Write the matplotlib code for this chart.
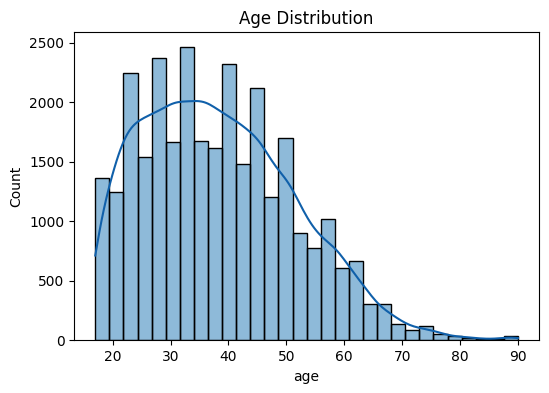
import numpy as np
import matplotlib.pyplot as plt

# histogram of age, 30 bins between 17 and 90 (counts)
age_min = 17
age_max = 90
counts = [1365, 1247, 2246, 1541, 2372, 1667, 2467, 1675, 1617, 2321,
          1482, 2120, 1205, 1701, 906, 778, 1021, 610, 663, 308,
          308, 140, 90, 123, 50, 40, 22, 15, 8, 40]

edges = np.linspace(age_min, age_max, len(counts) + 1)
width = edges[1] - edges[0]
counts = np.array(counts, dtype=float)

# kde: spread each bin over the whole ages inside it, then gaussian kde (scott)
pts = []
wts = []
for i in range(len(counts)):
    lo, hi = edges[i], edges[i + 1]
    ages = np.arange(np.ceil(lo), np.floor(hi) + 1)
    if i < len(counts) - 1:
        ages = ages[ages < hi]
    for a in ages:
        pts.append(a)
        wts.append(counts[i] / len(ages))
pts = np.array(pts)
wts = np.array(wts)
n = wts.sum()
mean = np.sum(pts * wts) / n
std = np.sqrt(np.sum(wts * (pts - mean) ** 2) / n)
bw = std * n ** (-1 / 5)
grid = np.linspace(age_min, age_max, 200)
dens = np.array([np.sum(wts * np.exp(-0.5 * ((g - pts) / bw) ** 2)) for g in grid])
dens = dens / (n * bw * np.sqrt(2 * np.pi))
kde_counts = dens * n * width

fig = plt.figure(figsize=(5.49, 3.93), dpi=100)
ax = fig.add_axes([0.135, 0.134, 0.847, 0.784])
ax.bar(edges[:-1], counts, width=width, align='edge', color='#1f77b4', alpha=0.5,
       edgecolor='none')
ax.bar(edges[:-1], counts, width=width, align='edge', fill=False,
       edgecolor='black', linewidth=1)
ax.plot(grid, kde_counts, color='#1060aa', linewidth=1.5)

ax.set_title('Age Distribution')
ax.set_xlabel('age')
ax.set_ylabel('Count')
ax.set_xticks([20, 30, 40, 50, 60, 70, 80, 90])
ax.set_yticks([0, 500, 1000, 1500, 2000, 2500])

fig.savefig('out.png', dpi=100)
